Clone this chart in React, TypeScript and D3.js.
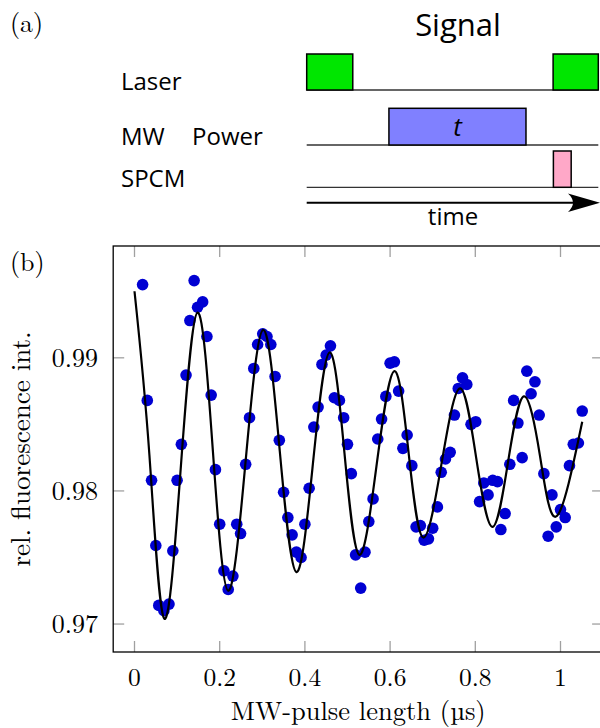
import React from "react";
import * as d3 from "d3";

// ---- measured data (MW-pulse length in µs, relative fluorescence) ----
const pulseLength = [
  0.019, 0.030, 0.040, 0.050, 0.057, 0.069, 0.081, 0.090, 0.100, 0.110,
  0.121, 0.130, 0.140, 0.148, 0.160, 0.170, 0.180, 0.190, 0.200, 0.210,
  0.220, 0.231, 0.240, 0.249, 0.261, 0.270, 0.280, 0.289, 0.301, 0.311,
  0.320, 0.330, 0.340, 0.350, 0.360, 0.370, 0.380, 0.391, 0.400, 0.410,
  0.421, 0.431, 0.440, 0.450, 0.460, 0.469, 0.481, 0.491, 0.500, 0.509,
  0.519, 0.531, 0.541, 0.550, 0.560, 0.571, 0.580, 0.590, 0.600, 0.610,
  0.620, 0.630, 0.640, 0.651, 0.661, 0.671, 0.680, 0.690, 0.700, 0.711,
  0.720, 0.730, 0.741, 0.751, 0.760, 0.770, 0.780, 0.790, 0.801, 0.810,
  0.820, 0.830, 0.841, 0.852, 0.860, 0.870, 0.881, 0.890, 0.900, 0.910,
  0.921, 0.931, 0.940, 0.950, 0.961, 0.971, 0.980, 0.990, 1.000, 1.011,
  1.021, 1.030, 1.042, 1.051,
];
const fluorescence = [
  0.9955, 0.9868, 0.9808, 0.9759, 0.9714, 0.9710, 0.9715, 0.9755, 0.9808, 0.9835,
  0.9887, 0.9928, 0.9958, 0.9938, 0.9942, 0.9916, 0.9872, 0.9816, 0.9775, 0.9740,
  0.9726, 0.9736, 0.9775, 0.9768, 0.9820, 0.9855, 0.9892, 0.9910, 0.9918, 0.9916,
  0.9910, 0.9886, 0.9838, 0.9799, 0.9780, 0.9767, 0.9754, 0.9750, 0.9775, 0.9802,
  0.9848, 0.9863, 0.9895, 0.9902, 0.9909, 0.9870, 0.9868, 0.9855, 0.9835, 0.9813,
  0.9752, 0.9727, 0.9754, 0.9777, 0.9794, 0.9839, 0.9854, 0.9871, 0.9896, 0.9897,
  0.9875, 0.9832, 0.9842, 0.9819, 0.9773, 0.9774, 0.9763, 0.9764, 0.9772, 0.9788,
  0.9814, 0.9824, 0.9829, 0.9857, 0.9877, 0.9885, 0.9880, 0.9850, 0.9852, 0.9792,
  0.9806, 0.9797, 0.9808, 0.9807, 0.9771, 0.9783, 0.9820, 0.9868, 0.9851, 0.9825,
  0.9890, 0.9873, 0.9882, 0.9857, 0.9813, 0.9766, 0.9797, 0.9773, 0.9786, 0.9780,
  0.9819, 0.9835, 0.9836, 0.9860,
];

// ---- fit curve, read at its extrema and half-way points ----
const fitT = [
  0, 0.035, 0.070, 0.109, 0.148, 0.184, 0.220, 0.261, 0.302, 0.341,
  0.380, 0.419, 0.458, 0.493, 0.528, 0.569, 0.610, 0.644, 0.678, 0.721,
  0.764, 0.802, 0.840, 0.877, 0.914, 0.952, 0.991, 1.051,
];
const fitV = [
  0.9950, 0.9827, 0.9704, 0.9819, 0.9934, 0.9830, 0.9725, 0.9823, 0.9921, 0.9830,
  0.9739, 0.9821, 0.9904, 0.9828, 0.9752, 0.9821, 0.9890, 0.9827, 0.9765, 0.9821,
  0.9877, 0.9825, 0.9773, 0.9822, 0.9871, 0.9826, 0.9781, 0.9852,
];

const xTicks = [0, 0.2, 0.4, 0.6, 0.8, 1];
const xTickLabels = ["0", "0.2", "0.4", "0.6", "0.8", "1"];
const yTicks = [0.97, 0.98, 0.99];
const yTickLabels = ["0.97", "0.98", "0.99"];

// ---- pulse sequence (schematic time units 0..100) ----
const laserPulses = [
  [0, 15.8],
  [84.5, 100],
];
const mwPulses = [[28.2, 75.2]];
const spcmPulses = [[84.6, 90.7]];
const rowLabels = ["Laser", "SPCM"];

const SERIF = "'Latin Modern Roman', 'CMU Serif', 'Liberation Serif', serif";
const SANS = "'Open Sans', 'Noto Sans', sans-serif";

export default function App() {
  const W = 600;
  const H = 728;

  const x = d3.scaleLinear().domain([-0.05, 1.1]).range([113.2, 603.1]);
  const y = d3.scaleLinear().domain([0.9679, 0.9984]).range([652, 246]);
  const tickLen = 11;

  const fitPts: [number, number][] = fitT.map((t, i) => [t, fitV[i]]);
  const line = d3
    .line<[number, number]>()
    .x((d) => x(d[0]))
    .y((d) => y(d[1]))
    .curve(d3.curveNatural);

  const ts = d3.scaleLinear().domain([0, 100]).range([306.7, 598.3]);
  const rows = { laser: { base: 90, top: 54 }, mw: { base: 145, top: 108.3 }, spcm: { base: 187.3, top: 151 } };

  const [x0, x1] = x.range();
  const [yb, yt] = y.range();

  return (
    <svg
      width={W}
      height={H}
      style={{ position: "absolute", left: 0, top: 0, background: "#fff" }}
      xmlns="http://www.w3.org/2000/svg"
    >
      <rect x={0} y={0} width={W} height={H} fill="#fff" />

      {/* ---------- panel (a) ---------- */}
      <text x={10} y={32} fontFamily={SERIF} fontSize={26} fill="#000">
        (a)
      </text>
      <text x={458} y={36} fontFamily={SANS} fontSize={31} textAnchor="middle" fill="#000">
        Signal
      </text>
      <text x={121} y={90} fontFamily={SANS} fontSize={24} fill="#000">
        {rowLabels[0]}
      </text>
      <text x={121} y={145} fontFamily={SANS} fontSize={24} fill="#000">
        MW
      </text>
      <text x={192} y={145} fontFamily={SANS} fontSize={24} fill="#000">
        Power
      </text>
      <text x={121} y={187} fontFamily={SANS} fontSize={24} fill="#000">
        {rowLabels[1]}
      </text>

      {/* base lines */}
      {[rows.laser.base, rows.mw.base, rows.spcm.base].map((b, i) => (
        <line key={i} x1={ts(0)} x2={ts(100)} y1={b} y2={b} stroke="#333" strokeWidth={1.3} />
      ))}
      {laserPulses.map((p, i) => (
        <rect
          key={"l" + i}
          x={ts(p[0])}
          y={rows.laser.top}
          width={ts(p[1]) - ts(p[0])}
          height={rows.laser.base - rows.laser.top}
          fill="#00e600"
          stroke="#000"
          strokeWidth={1.5}
        />
      ))}
      {mwPulses.map((p, i) => (
        <g key={"m" + i}>
          <rect
            x={ts(p[0])}
            y={rows.mw.top}
            width={ts(p[1]) - ts(p[0])}
            height={rows.mw.base - rows.mw.top}
            fill="#8080ff"
            stroke="#000"
            strokeWidth={1.5}
          />
          <text
            x={(ts(p[0]) + ts(p[1])) / 2}
            y={136}
            fontFamily={SANS}
            fontStyle="italic"
            fontSize={26}
            textAnchor="middle"
            fill="#000"
          >
            t
          </text>
        </g>
      ))}
      {spcmPulses.map((p, i) => (
        <rect
          key={"s" + i}
          x={ts(p[0])}
          y={rows.spcm.top}
          width={ts(p[1]) - ts(p[0])}
          height={rows.spcm.base - rows.spcm.top}
          fill="#ffa8c8"
          stroke="#000"
          strokeWidth={1.5}
        />
      ))}
      {/* time arrow */}
      <line x1={ts(0)} x2={585} y1={202.7} y2={202.7} stroke="#000" strokeWidth={2} />
      <path d="M 600 202.7 L 568 193.5 Q 578 202.7 568 211.9 Z" fill="#000" />
      <text x={453} y={225} fontFamily={SANS} fontSize={24} textAnchor="middle" fill="#000">
        time
      </text>

      {/* ---------- panel (b) ---------- */}
      <text x={10} y={271} fontFamily={SERIF} fontSize={26} fill="#000">
        (b)
      </text>

      {/* ticks */}
      {xTicks.map((t, i) => (
        <g key={"xt" + i}>
          <line x1={x(t)} x2={x(t)} y1={yb} y2={yb - tickLen} stroke="#a0a0a0" strokeWidth={1.3} />
          <line x1={x(t)} x2={x(t)} y1={yt} y2={yt + tickLen} stroke="#a0a0a0" strokeWidth={1.3} />
          <text x={x(t)} y={686} fontFamily={SERIF} fontSize={25.5} textAnchor="middle" fill="#000">
            {xTickLabels[i]}
          </text>
        </g>
      ))}
      {yTicks.map((v, i) => (
        <g key={"yt" + i}>
          <line x1={x0} x2={x0 + tickLen} y1={y(v)} y2={y(v)} stroke="#a0a0a0" strokeWidth={1.3} />
          <line x1={x1} x2={x1 - tickLen} y1={y(v)} y2={y(v)} stroke="#a0a0a0" strokeWidth={1.3} />
          <text x={98} y={y(v) + 9} fontFamily={SERIF} fontSize={26} textAnchor="end" fill="#000">
            {yTickLabels[i]}
          </text>
        </g>
      ))}

      {/* data */}
      {pulseLength.map((t, i) => (
        <circle key={"p" + i} cx={x(t)} cy={y(fluorescence[i])} r={5.8} fill="#0000d2" />
      ))}
      <path d={line(fitPts) || ""} fill="none" stroke="#000" strokeWidth={2.2} />

      {/* frame */}
      <rect x={x0} y={yt} width={x1 - x0} height={yb - yt} fill="none" stroke="#000" strokeWidth={1.3} />

      {/* axis labels */}
      <text x={(x0 + x1) / 2} y={720} fontFamily={SERIF} fontSize={26.5} textAnchor="middle" fill="#000">
        MW-pulse length (µs)
      </text>
      <text
        transform={`translate(30, ${(yb + yt) / 2}) rotate(-90)`}
        fontFamily={SERIF}
        fontSize={27}
        textAnchor="middle"
        fill="#000"
      >
        rel. fluorescence int.
      </text>
    </svg>
  );
}
